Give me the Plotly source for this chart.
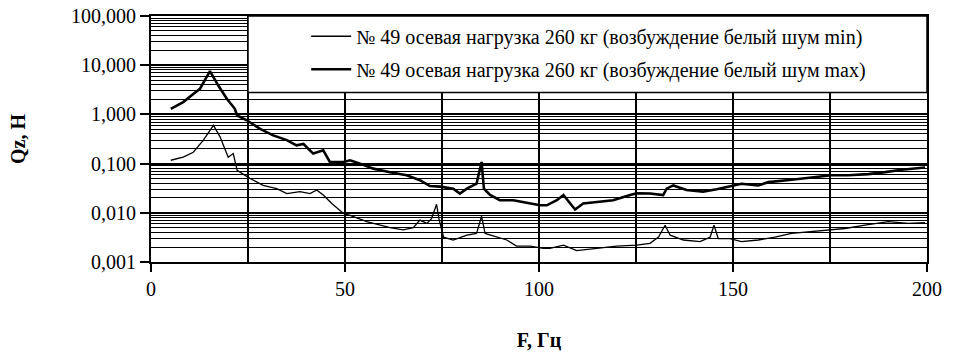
import plotly.graph_objects as go

# Frequency (Hz) and Qz (N) for "min" excitation
f_min = [5.1, 8.3, 10.9, 13.5, 16.1, 17.8, 19.9, 21.2, 22.2, 25.5, 28.9, 32.4, 35.0, 38.4, 41.0, 42.7,
         44.4, 46.6, 49.6, 51.3, 55.6, 59.0, 61.6, 65.0, 67.6, 69.3, 71.1, 72.3, 73.6, 74.2, 75.4, 77.9,
         81.4, 83.9, 85.2, 86.1, 89.1, 91.7, 94.2, 97.7, 101.1, 102.8, 106.3, 109.7, 114.9, 120.0, 125.2,
         128.6, 130.8, 132.5, 133.8, 137.2, 141.5, 144.1, 145.1, 146.2, 149.2, 152.2, 156.5, 160.8, 165.1,
         170.0, 174.6, 178.9, 184.0, 190.0, 195.2, 199.5]
q_min = [0.117, 0.135, 0.17, 0.30, 0.60, 0.35, 0.135, 0.16, 0.073, 0.05, 0.036, 0.031, 0.0246, 0.027,
         0.0246, 0.029, 0.023, 0.0155, 0.0097, 0.0089, 0.0066, 0.0056, 0.005, 0.0045, 0.005, 0.0071,
         0.0061, 0.0076, 0.0149, 0.0076, 0.0032, 0.0028, 0.0035, 0.0038, 0.0085, 0.0038, 0.0032, 0.0028,
         0.0021, 0.0021, 0.0019, 0.0019, 0.0022, 0.0017, 0.0019, 0.0021, 0.0022, 0.0024, 0.0032, 0.0056,
         0.0035, 0.0028, 0.0026, 0.0032, 0.0056, 0.003, 0.003, 0.0026, 0.0028, 0.0032, 0.0038, 0.0041,
         0.0045, 0.0048, 0.0056, 0.0066, 0.0061, 0.0063]

# Frequency (Hz) and Qz (N) for "max" excitation
f_max = [5.1, 8.3, 10.9, 12.6, 15.2, 17.3, 19.5, 21.6, 22.2, 24.7, 28.1, 31.5, 35.0, 37.5, 39.3, 41.8,
         44.4, 46.1, 49.6, 51.3, 53.9, 57.3, 61.6, 65.9, 69.3, 71.9, 74.5, 77.9, 79.6, 81.4, 83.9, 85.2,
         85.8, 87.4, 89.9, 93.4, 96.8, 100.3, 102.0, 104.6, 106.3, 109.3, 111.4, 114.9, 119.1, 123.5,
         125.2, 128.6, 132.0, 132.9, 134.6, 138.0, 142.3, 145.8, 149.2, 152.2, 156.5, 159.1, 165.1, 170.3,
         175.4, 179.7, 184.9, 189.2, 193.5, 199.5]
q_max = [1.3, 1.78, 2.6, 3.3, 7.6, 3.9, 2.1, 1.3, 0.95, 0.76, 0.51, 0.375, 0.30, 0.235, 0.25, 0.16,
         0.186, 0.108, 0.108, 0.117, 0.10, 0.079, 0.067, 0.058, 0.046, 0.035, 0.034, 0.031, 0.0246, 0.031,
         0.039, 0.108, 0.031, 0.023, 0.018, 0.018, 0.016, 0.0142, 0.0142, 0.018, 0.023, 0.0117, 0.0155,
         0.0166, 0.018, 0.023, 0.025, 0.0246, 0.023, 0.031, 0.036, 0.029, 0.027, 0.030, 0.035, 0.039,
         0.036, 0.042, 0.047, 0.053, 0.058, 0.058, 0.061, 0.067, 0.075, 0.083]

y_tickvals = [0.001, 0.01, 0.1, 1, 10, 100]
y_ticktext = ["0,001", "0,010", "0,100", "1,000", "10,000", "100,000"]
y_minor = [m * d for d in [0.001, 0.01, 0.1, 1, 10] for m in range(2, 10)]
x_tickvals = [0, 50, 100, 150, 200]

name_min = "№ 49 осевая нагрузка 260 кг (возбуждение белый шум min)"
name_max = "№ 49 осевая нагрузка 260 кг (возбуждение белый шум max)"

FONT = "Liberation Serif"

fig = go.Figure()
fig.add_trace(go.Scatter(x=f_min, y=q_min, mode="lines", name=name_min, legendgroup="a",
                         line=dict(color="black", width=1.3)))
fig.add_trace(go.Scatter(x=f_max, y=q_max, mode="lines", name=name_max, legendgroup="b",
                         line=dict(color="black", width=2.6)))

# white legend box
fig.add_shape(type="rect", xref="x", yref="y", x0=25, x1=200, y0=2.8, y1=100,
              fillcolor="white", line=dict(color="black", width=1.5), layer="above")

fig.update_layout(
    width=955, height=357,
    margin=dict(l=151, r=28, t=16, b=95),
    paper_bgcolor="white", plot_bgcolor="white",
    font=dict(family=FONT, color="black", size=18),
    showlegend=True,
    legend=dict(x=0.2, y=0.997, xanchor="left", yanchor="top",
                bgcolor="rgba(0,0,0,0)", borderwidth=0, itemwidth=40,
                font=dict(family=FONT, size=20, color="black"),
                traceorder="grouped", tracegroupgap=4),
    xaxis=dict(range=[0, 200], tickmode="array", tickvals=x_tickvals, automargin=False,
               ticks="outside", ticklen=8, tickwidth=2, tickcolor="black",
               showgrid=True, gridcolor="black", gridwidth=2,
               showline=True, linecolor="black", linewidth=2, mirror=True,
               minor=dict(dtick=25, tick0=0, showgrid=True, gridcolor="black", gridwidth=2, ticks=""),
               zeroline=False,
               title=dict(text="<b>F, Гц</b>", standoff=34, font=dict(family=FONT, size=20)),
               tickfont=dict(family=FONT, size=20)),
    yaxis=dict(type="log", range=[-3, 2], tickmode="array", tickvals=y_tickvals, ticktext=y_ticktext,
               automargin=False,
               ticks="outside", ticklen=9, tickwidth=2, tickcolor="black",
               showgrid=True, gridcolor="black", gridwidth=2,
               showline=True, linecolor="black", linewidth=2, mirror=True,
               minor=dict(tickmode="array", tickvals=y_minor, showgrid=True, gridcolor="black",
                          gridwidth=1, ticks=""),
               zeroline=False,
               title=dict(text="<b>Qz, Н</b>", standoff=40, font=dict(family=FONT, size=20)),
               tickfont=dict(family=FONT, size=20)),
)

fig.write_html("out.html")
